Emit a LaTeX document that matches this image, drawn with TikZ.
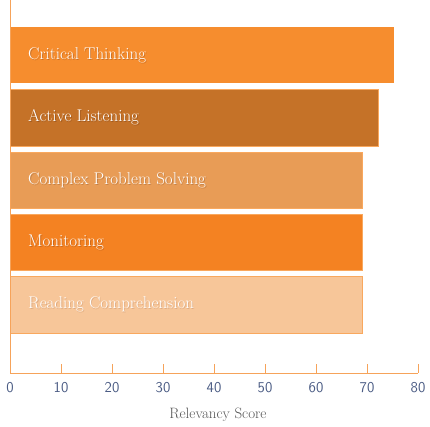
\documentclass[tikz,border=0pt]{standalone}
\usetikzlibrary{positioning}
\definecolor{barA}{RGB}{246,141,46}
\definecolor{barB}{RGB}{197,114,40}
\definecolor{barC}{RGB}{232,156,86}
\definecolor{barD}{RGB}{244,130,34}
\definecolor{barE}{RGB}{247,198,153}
\definecolor{edgeor}{RGB}{249,168,94}
\definecolor{axisor}{RGB}{246,163,90}
\definecolor{ticktext}{RGB}{75,92,132}
\definecolor{titletext}{RGB}{85,85,85}
\definecolor{shadowA}{RGB}{200,112,38}
\definecolor{shadowB}{RGB}{160,90,32}
\definecolor{shadowC}{RGB}{195,128,70}
\definecolor{shadowD}{RGB}{200,104,28}
\definecolor{shadowE}{RGB}{220,170,130}
\tikzset{
  bar/.style={draw=edgeor, line width=0.8pt},
  barlabel/.style={anchor=west, text=white, font=\fontsize{17}{20}\selectfont, inner sep=0pt},
  barshadow/.style={anchor=west, font=\fontsize{17}{20}\selectfont, inner sep=0pt},
  axisline/.style={draw=axisor, line width=1pt},
  ticklabel/.style={text=ticktext, font=\sffamily\fontsize{15}{18}\selectfont},
}
\begin{document}
\begin{tikzpicture}[x=1pt,y=1pt]
\useasboundingbox (0,-427) rectangle (430,0);
% bars: value v ends at 10+5.1*v
\fill[barA] (10,-27) rectangle (393.8,-83);
\filldraw[bar, fill=barB] (10,-89.5) rectangle (378.3,-146);
\filldraw[bar, fill=barC] (10,-152) rectangle (362.8,-208);
\filldraw[bar, fill=barD] (10,-214) rectangle (362.8,-270);
\filldraw[bar, fill=barE] (10,-276.5) rectangle (362.8,-333);
% labels
\foreach \name/\txt/\y/\c in {ct/Critical Thinking/55/shadowA, al/Active Listening/117.5/shadowB, cp/Complex Problem Solving/180/shadowC, mo/Monitoring/242/shadowD, rc/Reading Comprehension/304.5/shadowE}{
  \node[barshadow, text=\c] (\name s) at (28.8,-\y-1) {\txt};
  \node[barlabel] (\name) at (28,-\y) {\txt};
}
% axis
\draw[axisline] (10,0) -- (10,-373) -- (418,-373);
\foreach \v in {0,10,...,80}{
  \draw[axisline] (10+5.1*\v,-364) -- (10+5.1*\v,-373);
  \node[ticklabel] (t\v) at (10+5.1*\v,-388) {\v};
}
\node[text=titletext, font=\fontsize{15}{18}\selectfont] (xlabel) at (218,-415) {Relevancy Score};
\end{tikzpicture}
\end{document}
